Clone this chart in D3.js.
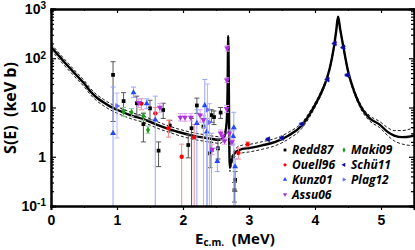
<!DOCTYPE html>
<html>
<head>
<meta charset="utf-8">
<script src="https://cdn.jsdelivr.net/npm/d3@7"></script>
<style>
  body { margin: 0; background: #fff; }
  svg { display: block; font-family: "Open Sans", "DejaVu Sans", sans-serif; }
  .axis .tick text { font-weight: bold; font-size: 14px; fill: #000; }
  .axis path, .axis line { stroke: #000; }
  .legend text { font-weight: bold; font-style: italic; font-size: 12px; }
</style>
</head>
<body>
<svg id="chart"></svg>
<script>
// R-matrix fit (E in MeV, S in keV b)
const fitE = [0, 0.1, 0.2, 0.3, 0.4, 0.5, 0.6, 0.7, 0.8, 0.9,
  1.0, 1.2, 1.4, 1.6, 1.8, 2.0, 2.2, 2.4, 2.55, 2.62,
  2.65, 2.665, 2.675, 2.685, 2.695, 2.70, 2.71, 2.72, 2.75, 2.8,
  2.9, 3.0, 3.2, 3.4, 3.6, 3.8, 3.95, 4.05, 4.15, 4.22,
  4.28, 4.32, 4.35, 4.38, 4.43, 4.5, 4.6, 4.7, 4.83, 4.98,
  5.1, 5.2, 5.33, 5.45, 5.5];
const fitS = [170, 120, 84, 60, 43, 31, 21, 15.6, 12.6, 10.4,
  9.0, 7.0, 5.8, 4.5, 3.6, 3.0, 2.6, 2.35, 2.2, 2.5,
  3.6, 6, 20, 280, 20, 3, 0.6, 0.7, 0.95, 1.25,
  1.45, 1.5, 1.7, 2.0, 2.7, 4.3, 8.5, 15, 30, 60,
  150, 350, 700, 400, 170, 55, 20, 10, 6, 4.5,
  3.2, 2.7, 2.5, 2.6, 2.7];
const fitUp = [195, 138, 97, 69, 49.5, 35.6, 24.2, 17.9, 14.5, 12.0,
  10.4, 8.1, 6.7, 5.2, 4.15, 3.45, 3.0, 2.7, 2.55, 2.9,
  4.1, 6.9, 23, 300, 23, 3.5, 0.72, 0.84, 1.12, 1.48,
  1.72, 1.78, 2.02, 2.36, 3.15, 4.9, 9.5, 16.5, 32.5, 64,
  158, 365, 720, 420, 180, 59, 21.8, 11.1, 6.8, 5.2,
  3.9, 3.4, 3.4, 3.7, 3.9];
const fitLow = [146, 103, 72, 51.6, 37, 26.7, 18.1, 13.4, 10.8, 8.9,
  7.7, 6.0, 5.0, 3.85, 3.1, 2.55, 2.2, 2.0, 1.87, 2.15,
  3.1, 5.2, 17, 260, 17, 2.6, 0.5, 0.58, 0.8, 1.05,
  1.2, 1.25, 1.42, 1.68, 2.3, 3.75, 7.6, 13.6, 27.5, 56,
  142, 335, 680, 380, 160, 51, 18.3, 9.0, 5.3, 3.9,
  2.7, 2.1, 1.8, 1.7, 1.7];

// data sets: [E, S, S low, S high]  (low 0.01 = error bar runs off the axis)
const redd87 = [[0.94, 46, 5.2, 85], [1.10, 13.5, 8.9, 20], [1.30, 12.2, 7, 17],
  [1.40, 4.6, 2.0, 7.6], [1.50, 9.6, 5.6, 14], [1.63, 1.33, 0.63, 2.0],
  [1.70, 8.9, 6.0, 12.2], [1.80, 4.3, 3.2, 5.5], [2.08, 1.73, 0.95, 2.8],
  [2.13, 3.8, 0.01, 6], [2.21, 11, 7.6, 15.5], [2.31, 4.1, 2.5, 6],
  [2.41, 1.17, 0.6, 2], [2.43, 7.0, 5, 9], [2.47, 6.4, 4.5, 8.5],
  [2.53, 1.48, 0.9, 2.3], [2.57, 7.9, 6, 10], [2.79, 0.34, 0.2, 0.5],
  [2.78, 0.21, 0.12, 0.3]];
const ouell96 = [[1.37, 12, 9, 15], [1.58, 7.6, 5.5, 10], [1.78, 3.8, 2.5, 5.5],
  [1.98, 1.0, 0.01, 1.8], [2.17, 2.5, 0.01, 4.5], [2.84, 1.2, 0.9, 1.5],
  [2.98, 1.8, 1.6, 2.0]];
const kunz01 = [[0.94, 3.0, 0.01, 26], [1.25, 20, 16, 26], [1.45, 12, 9.5, 15],
  [1.58, 5.6, 0.01, 17], [2.21, 4.8, 0.01, 9], [2.33, 11, 3.9, 37],
  [2.36, 3.2, 0.01, 6], [2.43, 1.37, 0.01, 3], [2.52, 0.81, 0.5, 1.5],
  [2.76, 2.6, 1.8, 3.5], [2.77, 3.9, 0.01, 8], [2.79, 0.63, 0.01, 0.9]];
const assu06 = [[1.33, 12.5, 10, 15], [1.65, 10, 8, 12], [1.96, 6.3, 5.3, 7.5],
  [2.03, 6.3, 5.3, 7.5], [2.12, 6.3, 5.3, 7.5], [2.26, 7, 5, 9],
  [2.31, 5.6, 0.01, 7], [2.44, 1.4, 1.1, 1.8], [2.57, 3.0, 2.5, 3.5],
  [2.60, 2.6, 2.2, 3], [2.63, 2.1, 1.8, 2.4], [2.66, 9.5, 8, 11],
  [2.665, 36, 32, 40], [2.67, 160, 140, 180], [2.70, 3.0, 2.5, 3.5],
  [2.74, 2.0, 1.7, 2.3]];
const maki09 = [[1.10, 8.2, 6.5, 10], [1.22, 8, 6.5, 9.5], [1.40, 6.7, 5.5, 8],
  [1.47, 3.5, 3, 4.2]];
const schu11 = [[3.29, 2.26, 2.1, 2.4], [3.50, 2.4, 2.25, 2.55], [3.80, 4.6, 4.3, 4.9],
  [4.19, 37, 35, 39], [4.30, 200, 190, 210], [4.43, 166, 158, 174],
  [4.49, 45.6, 43, 48]];
const plag12 = [[1.00, 10.7, 2.4, 19.6], [2.37, 9, 0.01, 30], [2.40, 5, 0.01, 12]];

const xTicks = [0, 1, 2, 3, 4, 5];
const yTicks = [0.1, 1, 10, 100, 1000];
const yTickLabels = [['10', '-1'], ['1', ''], ['10', ''], ['10', '2'], ['10', '3']];

class SFactorChart {

  constructor(_config) {
    this.config = {
      parentElement: _config.parentElement,
      containerWidth: _config.containerWidth || 415,
      containerHeight: _config.containerHeight || 250,
      margin: _config.margin || { top: 9, right: 1, bottom: 44, left: 51 }
    };
    this.series = _config.series;
    this.initVis();
  }

  initVis() {
    let vis = this;
    const m = vis.config.margin;
    vis.width = vis.config.containerWidth - m.left - m.right;
    vis.height = vis.config.containerHeight - m.top - m.bottom;

    vis.xScale = d3.scaleLinear().domain([0, 5.5]).range([0, vis.width]);
    vis.yScale = d3.scaleLog().domain([0.1, 1000]).range([vis.height, 0]);

    vis.svg = d3.select(vis.config.parentElement)
        .attr('width', vis.config.containerWidth)
        .attr('height', vis.config.containerHeight);

    vis.chart = vis.svg.append('g')
        .attr('transform', `translate(${m.left},${m.top})`);

    vis.svg.append('defs').append('clipPath').attr('id', 'plot-clip')
      .append('rect').attr('width', vis.width).attr('height', vis.height);

    vis.plot = vis.chart.append('g').attr('clip-path', 'url(#plot-clip)');

    // minor ticks
    vis.xMinor = d3.range(0.5, 5.6, 1);
    vis.yMinor = [];
    [0.1, 1, 10, 100].forEach(d => d3.range(2, 10).forEach(k => vis.yMinor.push(d * k)));
  }

  renderVis() {
    let vis = this;

    // error band and fit
    const line = (ys) => d3.line()
        .x((d, i) => vis.xScale(fitE[i]))
        .y((d, i) => vis.yScale(ys[i]))
        .curve(d3.curveMonotoneX)(ys);

    [fitUp, fitLow].forEach(arr => {
      vis.plot.append('path')
          .attr('d', line(arr))
          .attr('fill', 'none')
          .attr('stroke', '#000')
          .attr('stroke-width', 0.9)
          .attr('stroke-dasharray', '3,2');
    });
    vis.plot.append('path')
        .attr('d', line(fitS))
        .attr('fill', 'none')
        .attr('stroke', '#000')
        .attr('stroke-width', 2.4);

    // data points with error bars
    vis.series.forEach(s => {
      const g = vis.plot.append('g');
      const bars = g.selectAll('.eb').data(s.data).join('g').attr('class', 'eb')
          .attr('stroke', s.bar).attr('stroke-width', 1);
      bars.append('line')
          .attr('x1', d => vis.xScale(d[0])).attr('x2', d => vis.xScale(d[0]))
          .attr('y1', d => vis.yScale(d[2])).attr('y2', d => vis.yScale(d[3]));
      bars.append('line')
          .attr('x1', d => vis.xScale(d[0]) - 2.5).attr('x2', d => vis.xScale(d[0]) + 2.5)
          .attr('y1', d => vis.yScale(d[3])).attr('y2', d => vis.yScale(d[3]));
      bars.append('line')
          .attr('x1', d => vis.xScale(d[0]) - 2.5).attr('x2', d => vis.xScale(d[0]) + 2.5)
          .attr('y1', d => vis.yScale(d[2])).attr('y2', d => vis.yScale(d[2]));
      g.selectAll('.pt').data(s.data).join('path').attr('class', 'pt')
          .attr('d', d3.symbol().type(s.symbol).size(s.size))
          .attr('transform', d => `translate(${vis.xScale(d[0])},${vis.yScale(d[1])}) rotate(${s.rot})`)
          .attr('fill', s.fill);
    });

    // axes
    vis.chart.append('g').attr('class', 'axis')
        .attr('transform', `translate(0,${vis.height})`)
        .call(d3.axisBottom(vis.xScale).tickValues(xTicks).tickSize(4).tickPadding(5).tickFormat(d3.format('d')));
    vis.chart.append('g').attr('class', 'axis')
        .attr('transform', `translate(0,${vis.height})`)
        .call(d3.axisBottom(vis.xScale).tickValues(vis.xMinor).tickSize(2).tickFormat(''));
    vis.chart.append('g').attr('class', 'axis')
        .call(d3.axisTop(vis.xScale).tickValues(xTicks).tickSize(-4).tickFormat(''));
    vis.chart.append('g').attr('class', 'axis')
        .call(d3.axisTop(vis.xScale).tickValues(vis.xMinor).tickSize(-2).tickFormat(''));

    const yAxisL = vis.chart.append('g').attr('class', 'axis')
        .call(d3.axisLeft(vis.yScale).tickValues(yTicks).tickSize(-5).tickPadding(5));
    vis.chart.append('g').attr('class', 'axis')
        .call(d3.axisLeft(vis.yScale).tickValues(vis.yMinor).tickSize(-3).tickFormat(''));
    vis.chart.append('g').attr('class', 'axis')
        .attr('transform', `translate(${vis.width},0)`)
        .call(d3.axisRight(vis.yScale).tickValues(yTicks).tickSize(-5).tickFormat(''));
    vis.chart.append('g').attr('class', 'axis')
        .attr('transform', `translate(${vis.width},0)`)
        .call(d3.axisRight(vis.yScale).tickValues(vis.yMinor).tickSize(-3).tickFormat(''));

    vis.chart.selectAll('.axis path.domain').attr('stroke-width', 2);
    vis.chart.selectAll('.axis .tick line').attr('stroke-width', 1.2);

    yAxisL.selectAll('.tick text').text(null).each(function(d) {
      const lab = yTickLabels[yTicks.indexOf(d)];
      const t = d3.select(this);
      t.append('tspan').text(lab[0]);
      if (lab[1]) t.append('tspan').attr('dy', '-0.45em').attr('font-size', '10px').text(lab[1]);
    });

    // axis titles
    const xt = vis.svg.append('text')
        .attr('x', 195).attr('y', 244)
        .attr('font-weight', 'bold').attr('font-size', 15);
    xt.append('tspan').text('E');
    xt.append('tspan').attr('font-size', 10).attr('dy', 2).text('c.m.');
    xt.append('tspan').attr('dy', -2).text('\u00a0 (MeV)');

    vis.svg.append('text')
        .attr('transform', 'translate(16,108) rotate(-90)')
        .attr('text-anchor', 'middle')
        .attr('font-weight', 'bold').attr('font-size', 16)
        .text('S(E)\u00a0 (keV b)');

    // legend
    const leg = vis.svg.append('g').attr('class', 'legend');
    vis.series.forEach((s, i) => {
      const col = i < 4 ? 0 : 1;
      const row = i < 4 ? i : i - 4;
      const lg = leg.append('g')
          .attr('transform', `translate(${col ? 344 : 285},${150 + row * 14.8})`);
      lg.append('path')
          .attr('d', d3.symbol().type(s.symbol).size(8))
          .attr('transform', `rotate(${s.rot})`)
          .attr('fill', s.fill);
      lg.append('text').attr('x', 7).attr('dy', '0.36em').text(s.name);
    });
  }
}

const chart = new SFactorChart({
  parentElement: '#chart',
  series: [
    { name: 'Redd87', data: redd87, symbol: d3.symbolSquare, rot: 0, size: 14, fill: '#000', bar: '#555' },
    { name: 'Ouell96', data: ouell96, symbol: d3.symbolCircle, rot: 0, size: 15, fill: '#f00', bar: '#f38a8a' },
    { name: 'Kunz01', data: kunz01, symbol: d3.symbolTriangle, rot: 0, size: 15, fill: '#2346ff', bar: '#97a6fb' },
    { name: 'Assu06', data: assu06, symbol: d3.symbolTriangle, rot: 180, size: 15, fill: '#b030e0', bar: '#d9a3ef' },
    { name: 'Maki09', data: maki09, symbol: d3.symbolDiamond, rot: 0, size: 14, fill: '#1d9a1d', bar: '#8fcf8f' },
    { name: 'Schü11', data: schu11, symbol: d3.symbolTriangle, rot: -90, size: 15, fill: '#0a0aa0', bar: '#7f7fd0' },
    { name: 'Plag12', data: plag12, symbol: d3.symbolTriangle, rot: 90, size: 15, fill: '#6f6ff5', bar: '#b4b4fa' }
  ]
});
chart.renderVis();
</script>
</body>
</html>
